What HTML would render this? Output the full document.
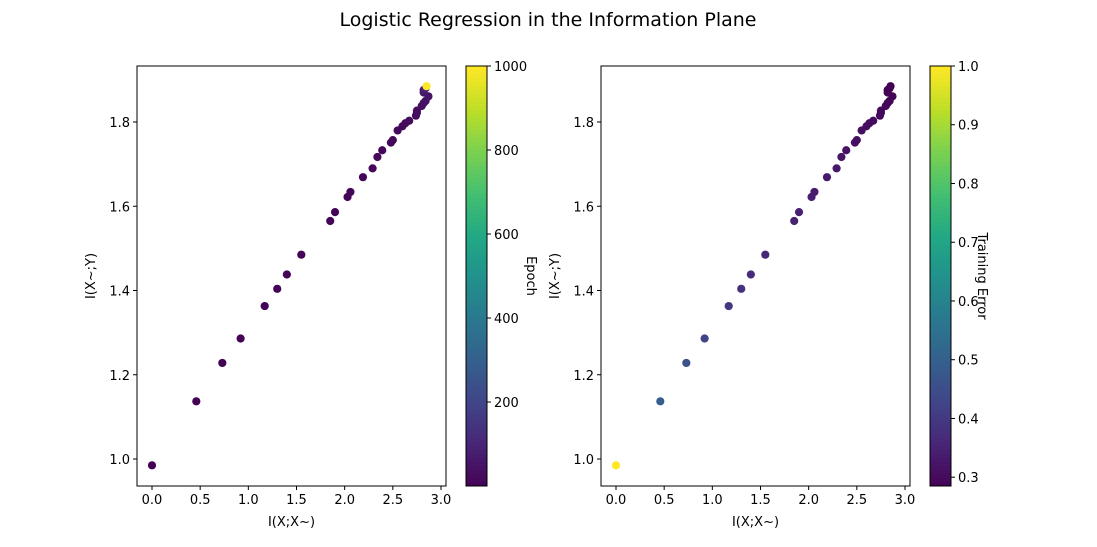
<!DOCTYPE html>
<html><head><meta charset="utf-8"><style>
body{margin:0;background:#fff}
svg{display:block;font-family:"DejaVu Sans","Liberation Sans",sans-serif}
</style></head><body>
<svg id="fig" width="1097" height="547">
<text x="548" y="26" font-size="19" text-anchor="middle">Logistic Regression in the Information Plane</text>
</svg>
<script>
const ixx = [0.0,0.46,0.73,0.92,1.17,1.30,1.40,1.55,1.85,1.90,2.03,2.06,2.19,2.29,2.34,2.39,2.48,2.50,2.55,2.60,2.63,2.67,2.74,2.75,2.75,2.80,2.82,2.84,2.87,2.82,2.82,2.84,2.85];
const ixy = [0.985,1.137,1.228,1.286,1.363,1.404,1.438,1.485,1.565,1.586,1.622,1.634,1.669,1.690,1.717,1.733,1.751,1.757,1.780,1.790,1.797,1.803,1.815,1.822,1.827,1.838,1.845,1.850,1.861,1.870,1.876,1.880,1.885];
const epochs = [1,2,3,4,5,6,7,8,10,11,12,13,14,15,16,18,19,20,22,24,26,28,30,32,35,38,42,46,50,60,80,100,1000];
const errors = [1.0,0.50,0.46,0.43,0.40,0.385,0.375,0.365,0.355,0.35,0.345,0.34,0.335,0.33,0.325,0.32,0.318,0.315,0.312,0.31,0.308,0.306,0.304,0.302,0.30,0.298,0.296,0.294,0.292,0.29,0.289,0.288,0.287];
const xTicks = [0.0,0.5,1.0,1.5,2.0,2.5,3.0];
const yTicks = [1.0,1.2,1.4,1.6,1.8];
const epochTicks = [200,400,600,800,1000];
const errTicks = [0.3,0.4,0.5,0.6,0.7,0.8,0.9,1.0];

const NS="http://www.w3.org/2000/svg";
const svg=document.getElementById('fig');
function mk(t,a,p){const e=document.createElementNS(NS,t);for(const k in a)e.setAttribute(k,a[k]);(p||svg).appendChild(e);return e;}
const V=[[68,1,84],[72,36,117],[65,68,135],[53,95,141],[42,120,142],[33,145,140],[34,168,132],[68,191,112],[122,209,81],[189,223,38],[253,231,37]];
function vir(t){t=Math.max(0,Math.min(1,t))*10;const i=Math.min(9,Math.floor(t)),f=t-i;const a=V[i],b=V[i+1];return 'rgb('+a.map((v,k)=>Math.round(v+(b[k]-v)*f)).join(',')+')';}
function panel(off,cvals,vmin,vmax,cticks,clabel,clOff,ylabel,pname){
  const X0=137+off,X1=446+off,Y0=66,Y1=486;
  const sx=v=>152+off+v*96.33, sy=v=>459-(v-1)*421.25;
  const g=mk('g',{});
  
  
  ixx.forEach((x,i)=>{
    const c=mk('circle',{cx:sx(x),cy:sy(ixy[i]),r:4.1,fill:vir((cvals[i]-vmin)/(vmax-vmin))},g);
    
    
  });
  const fr=mk('rect',{x:X0,y:Y0,width:X1-X0,height:Y1-Y0,fill:'none',stroke:'#000','stroke-width':1},g);
  
  
  xTicks.forEach(t=>{const x=sx(t);mk('line',{x1:x,x2:x,y1:Y1,y2:Y1+4,stroke:'#000'},g);
    const tx=mk('text',{x:x,y:Y1+18,'font-size':13,'text-anchor':'middle'},g);tx.textContent=t.toFixed(1);
    
    });
  yTicks.forEach(t=>{const y=sy(t);mk('line',{x1:X0-4,x2:X0,y1:y,y2:y,stroke:'#000'},g);
    const tx=mk('text',{x:X0-7,y:y+5,'font-size':13,'text-anchor':'end'},g);tx.textContent=t.toFixed(1);
    
    });
  const xl=mk('text',{x:(X0+X1)/2,y:Y1+40,'font-size':13,'text-anchor':'middle'},g);xl.textContent='I(X;X~)';
  
  
  const yl=mk('text',{x:0,y:0,'font-size':13,'text-anchor':'middle',transform:`translate(${X0-42},${(Y0+Y1)/2}) rotate(-90)`},g);yl.textContent=ylabel;
  
  
  const CX=466+off,CW=21;
  const cb=mk('g',{});
  
  
  for(let i=0;i<105;i++){const y=Y0+i*4;mk('rect',{x:CX,y:y,width:CW,height:4.5,fill:vir(1-i/105)},cb);}
  mk('rect',{x:CX,y:Y0,width:CW,height:Y1-Y0,fill:'none',stroke:'#000'},cb);
  const cy=v=>Y1-(v-vmin)/(vmax-vmin)*(Y1-Y0);
  cticks.forEach(t=>{const y=cy(t);mk('line',{x1:CX+CW,x2:CX+CW+4,y1:y,y2:y,stroke:'#000'},cb);
    const tx=mk('text',{x:CX+CW+7,y:y+5,'font-size':13},cb);tx.textContent=vmax>10?String(t):t.toFixed(1);
    
    });
  const cl=mk('text',{x:0,y:0,'font-size':13,'text-anchor':'middle',transform:`translate(${CX+CW+clOff},${(Y0+Y1)/2}) rotate(90)`},cb);cl.textContent=clabel;
  
  
}
panel(0,epochs,0,1000,epochTicks,'Epoch',40,'I(X~;Y)','left-panel');
panel(464,errors,0.285,1.0,errTicks,'Training Error',27,'I(X~;Y)','right-panel');
</script>
</body></html>
